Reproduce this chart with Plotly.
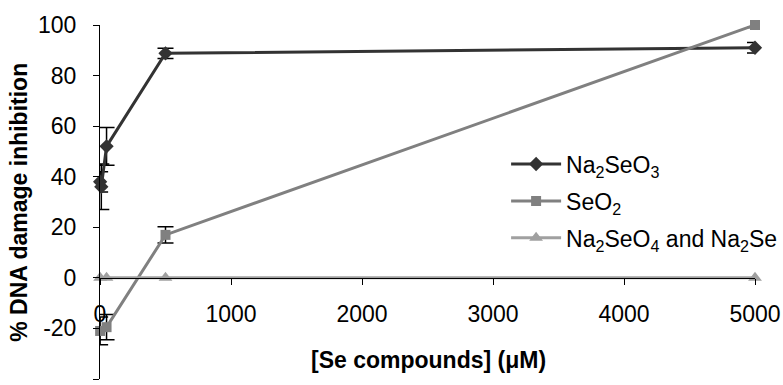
import plotly.graph_objects as go

# Data
x_na2seo3 = [1, 10, 50, 500, 5000]
y_na2seo3 = [38, 36, 52, 88.8, 91]
e_na2seo3 = [4, 9, 7.5, 2, 2.1]

x_seo2 = [1, 50, 500, 5000]
y_seo2 = [-21, -19.5, 17, 100]
e_seo2 = [5.5, 5, 3.2, 1]

x_na2seo4 = [1, 50, 500, 5000]
y_na2seo4 = [0, 0, 0, 0]

x_ticks = [0, 1000, 2000, 3000, 4000, 5000]
y_ticks = [-40, -20, 0, 20, 40, 60, 80, 100]

FONT = "Liberation Sans, Arial, sans-serif"

fig = go.Figure()
fig.add_trace(go.Scatter(
    x=x_na2seo3, y=y_na2seo3, name="Na<sub>2</sub>SeO<sub>3</sub>", legendgroup="a",
    mode="lines+markers",
    line=dict(color="#333333", width=3),
    marker=dict(symbol="diamond", size=11, color="#333333"),
    error_y=dict(type="data", array=e_na2seo3, color="#000000", thickness=1.5, width=8),
    cliponaxis=False,
))
fig.add_trace(go.Scatter(
    x=x_seo2, y=y_seo2, name="SeO<sub>2</sub>", legendgroup="b",
    mode="lines+markers",
    line=dict(color="#808080", width=3),
    marker=dict(symbol="square", size=10, color="#808080"),
    error_y=dict(type="data", array=e_seo2, color="#000000", thickness=1.5, width=8),
    cliponaxis=False,
))
fig.add_trace(go.Scatter(
    x=x_na2seo4, y=y_na2seo4, name="Na<sub>2</sub>SeO<sub>4</sub> and Na<sub>2</sub>Se",
    legendgroup="c",
    mode="lines+markers",
    line=dict(color="#a0a0a0", width=3),
    marker=dict(symbol="triangle-up", size=12, color="#a0a0a0"),
    cliponaxis=False,
))

fig.update_layout(
    template="none",
    width=783, height=385,
    margin=dict(l=100, r=28, t=25, b=6, autoexpand=False),
    paper_bgcolor="white", plot_bgcolor="white",
    font=dict(family=FONT, size=23, color="black"),
    showlegend=True,
    legend=dict(x=0.62, y=0.668, xanchor="left", yanchor="top", itemwidth=50,
                font=dict(size=23), bgcolor="rgba(0,0,0,0)", tracegroupgap=4),
    xaxis=dict(range=[0, 5000], tickvals=x_ticks, ticktext=[str(v) for v in x_ticks],
               showline=True, linecolor="black", linewidth=1,
               ticks="outside", ticklen=6, tickcolor="black",
               showgrid=False, zeroline=False, automargin=False,
               anchor="free", position=40 / 140, ticklabelstandoff=10),
    yaxis=dict(range=[-40, 100], tickvals=y_ticks, ticktext=[str(v) for v in y_ticks],
               domain=[0, 1],
               showline=True, linecolor="black", linewidth=1,
               ticks="outside", ticklen=6, tickcolor="black",
               showgrid=False, zeroline=False, automargin=False, ticklabelstandoff=12),
    annotations=[
        dict(text="<b>[Se compounds] (\u03bcM)</b>", xref="paper", yref="paper",
             x=(428 - 100) / 655, y=0.054, xanchor="center", yanchor="middle", showarrow=False,
             font=dict(size=23, family=FONT)),
        dict(text="<b>% DNA damage inhibition</b>", xref="paper", yref="paper",
             x=-0.124, y=0.5, xanchor="center", yanchor="middle", showarrow=False,
             textangle=-90, font=dict(size=23, family=FONT)),
    ],
)

fig.write_html("out.html", config={"displayModeBar": False},
               post_script="document.body.style.margin='0';")
